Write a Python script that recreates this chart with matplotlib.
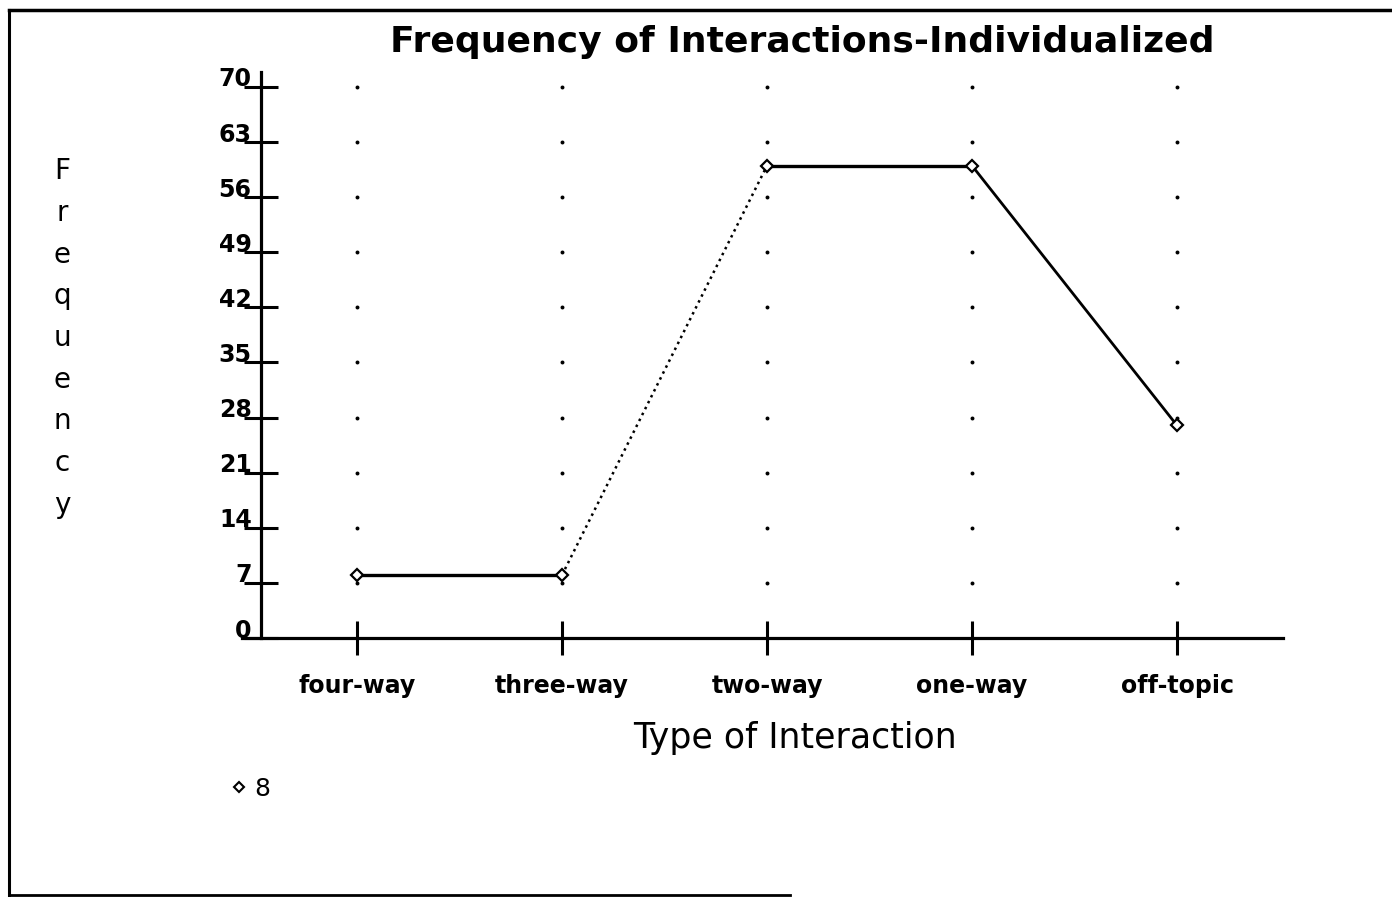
import matplotlib.pyplot as plt
from matplotlib.lines import Line2D
from matplotlib.transforms import ScaledTranslation

# data
categories = ["four-way", "three-way", "two-way", "one-way", "off-topic"]
frequency = [8, 8, 60, 60, 27]
yticks = [0, 7, 14, 21, 28, 35, 42, 49, 56, 63, 70]

W, H = 1392, 897
fig = plt.figure(figsize=(W / 100, H / 100), dpi=100)
fig.patch.set_facecolor("white")

# axes box: x from 242 to 1283 px, y=0 at 638 px, top at 72 px
ax = fig.add_axes([242 / W, 1 - 638 / H, (1283 - 242) / W, (638 - 72) / H])
x = list(range(len(categories)))
ax.set_xlim(-0.561, 4.517)
ax.set_ylim(0, 71.9)

for s in ["top", "right"]:
    ax.spines[s].set_visible(False)
ax.spines["left"].set_position(("data", -0.47))
ax.spines["left"].set_linewidth(2.3)
ax.spines["bottom"].set_linewidth(2.3)

ax.set_xticks(x)
ax.set_xticklabels(categories, fontsize=17, fontweight="bold")
ax.set_yticks(yticks)
ax.set_yticklabels([str(v) for v in yticks], fontsize=17, fontweight="bold")
ax.tick_params(axis="x", direction="inout", length=24, width=2.2, pad=14)
ax.tick_params(axis="y", direction="inout", length=25, width=2.2, pad=-6)
for lab in ax.get_yticklabels():
    lab.set_transform(lab.get_transform() + ScaledTranslation(0.0, 0.10, fig.dpi_scale_trans))

# dotted grid: one dot at each category / tick crossing
gx = [xi for xi in x for _ in yticks[1:]]
gy = [yv for _ in x for yv in yticks[1:]]
ax.scatter(gx, gy, s=8, color="black", zorder=1, linewidths=0)

# the line, segment by segment (the rising one is faint/dotted on the original)
seg_style = ["-", ":", "-", "-"]
seg_width = [2.4, 1.8, 2.4, 2.0]
for i in range(len(x) - 1):
    ax.plot(x[i:i + 2], frequency[i:i + 2], color="black", ls=seg_style[i], lw=seg_width[i], zorder=2)
ax.plot(x, frequency, ls="none", marker="D", markersize=6, mfc="white", mec="black", mew=1.6, zorder=3)

ax.set_xlabel("Type of Interaction", fontsize=25)
ax.xaxis.set_label_coords(0.531, -0.146)
fig.text(802 / W, 1 - 42 / H, "Frequency of Interactions-Individualized",
         fontsize=26, fontweight="bold", ha="center", va="center")
fig.text(62 / W, 1 - 338 / H, "\n".join("Frequency"), fontsize=20,
         ha="center", va="center", multialignment="center", linespacing=1.62)

ax.legend([Line2D([], [], ls="none", marker="D", markersize=5, mfc="white", mec="black", mew=1.5)],
          ["8"], loc="center left", bbox_to_anchor=(219 / W, 1 - 789 / H), bbox_transform=fig.transFigure,
          frameon=False, handlelength=0.6, handletextpad=0.3, fontsize=18, borderpad=0)

# border of the scanned page
fig.add_artist(Line2D([9 / W, 9 / W], [1 - 895 / H, 1 - 10 / H], color="black", lw=2.2, transform=fig.transFigure))
fig.add_artist(Line2D([9 / W, 1.0], [1 - 10 / H, 1 - 10 / H], color="black", lw=2.5, transform=fig.transFigure))
fig.add_artist(Line2D([9 / W, 790 / W], [1 - 895 / H, 1 - 895 / H], color="black", lw=2.0, transform=fig.transFigure))

fig.savefig("out.png", dpi=100)
